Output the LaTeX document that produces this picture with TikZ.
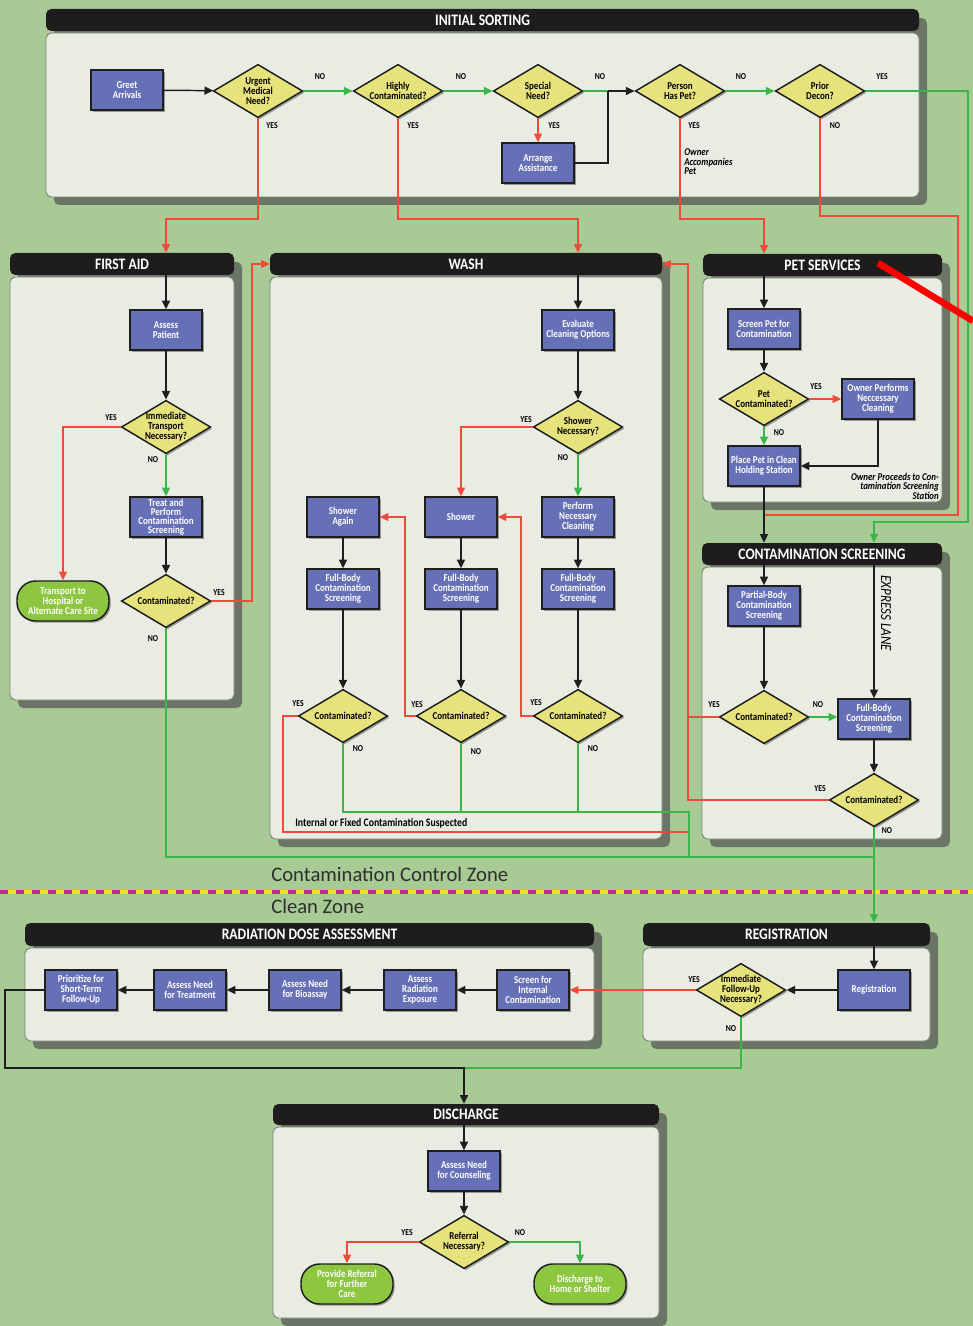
\documentclass[tikz,border=0pt]{standalone}
\usepackage{fontspec}
\setmainfont{Carlito}
\newfontfamily\hdrfamily[FakeStretch=0.85]{Carlito}
\newfontfamily\bxfamily[FakeStretch=0.85]{Carlito}
\usetikzlibrary{shapes.geometric,arrows.meta,shadows,fit}

\definecolor{bgc}{HTML}{A8CA94}
\definecolor{panelc}{HTML}{E8ECE2}
\definecolor{panelline}{HTML}{7C8579}
\definecolor{shadowc}{HTML}{6A7565}
\definecolor{hdrc}{HTML}{1F1C1D}
\definecolor{boxc}{HTML}{6670B6}
\definecolor{diac}{HTML}{E6E27C}
\definecolor{termc}{HTML}{8DC63F}
\definecolor{edgec}{HTML}{1E1E1E}
\definecolor{redc}{HTML}{EE4B3A}
\definecolor{grnc}{HTML}{3DB54A}
\definecolor{zoneY}{HTML}{F5E21A}
\definecolor{zoneM}{HTML}{C2278F}
\definecolor{zonetxt}{HTML}{2F2F2F}

\newcommand\hdfont{\hdrfamily\bfseries\fontsize{12}{14}\selectfont}
\newcommand\bxfont{\bxfamily\bfseries\fontsize{7.9}{7.5}\selectfont}
\newcommand\ynfont{\bxfamily\bfseries\fontsize{6.8}{7}\selectfont}
\newcommand\notefont{\bxfamily\bfseries\itshape\fontsize{7.8}{7.2}\selectfont}
\newcommand\zonefont{\fontsize{15.5}{17}\selectfont}

% panel: name, left x, header top, right x, header bottom, body bottom, title
\newcommand\mkpanel[7]{%
  \fill[shadowc, rounded corners=4pt] (#2+8,#3+9) rectangle (#4+8,#6+8);
  \node[body, fit={(#2,#5+2) (#4,#6)}] (b#1) {};
  \node[hdr, fit={(#2,#3) (#4,#5)}] (h#1) {};
  \node[hdrtext] (h#1-t) at (h#1.center) {#7};
}
% decision: name, position, text
\newcommand\dnode[3]{%
  \node[dia] (#1) at (#2) {};
  \node[dtext] (#1-t) at (#1.center) {#3};
}
% YES / NO tag: name, x, y, text
\newcommand\yn[4]{\node[yn] (#1) at (#2,#3) {#4};}

\begin{document}
\begin{tikzpicture}[x=0.75pt,y=-0.75pt,
  box/.style={draw=edgec, line width=1.1pt, fill=boxc, text=white,
    minimum width=54pt, minimum height=30pt, inner sep=1pt, align=center,
    font=\bxfont, drop shadow={shadow xshift=1.3pt, shadow yshift=-1.3pt, opacity=0.35, fill=black}},
  dia/.style={diamond, draw=edgec, line width=1.1pt, fill=diac,
    minimum width=67pt, minimum height=40pt, inner sep=0pt,
    drop shadow={shadow xshift=1.3pt, shadow yshift=-1.3pt, opacity=0.35, fill=black}},
  dtext/.style={font=\bxfont, text=black, align=center, inner sep=0pt},
  term/.style={draw=edgec, line width=1.1pt, fill=termc, text=white, rounded corners=14pt,
    minimum width=69pt, minimum height=30pt, inner sep=1pt, align=center, font=\bxfont,
    drop shadow={shadow xshift=1.3pt, shadow yshift=-1.3pt, opacity=0.35, fill=black}},
  hdr/.style={fill=hdrc, rounded corners=4pt, inner sep=0pt},
  hdrtext/.style={text=white, font=\hdfont, inner sep=0pt},
  body/.style={fill=panelc, draw=panelline, line width=0.7pt, rounded corners=4pt, inner sep=0pt},
  yn/.style={font=\ynfont, text=black, inner sep=0pt},
  note/.style={font=\notefont, text=black, inner sep=0pt},
  zone/.style={font=\zonefont, text=zonetxt, inner sep=0pt, anchor=west},
  tip/.style={-{Triangle[length=6.5pt,width=6pt]}},
  blkL/.style={draw=edgec, line width=1.1pt},
  blkA/.style={blkL, tip},
  redL/.style={draw=redc, line width=0.95pt},
  redA/.style={redL, tip},
  grnL/.style={draw=grnc, line width=0.95pt},
  grnA/.style={grnL, tip},
  slash/.style={draw=red, line width=5pt}
]
\useasboundingbox (0,0) rectangle (973,1326);
\fill[bgc] (0,0) rectangle (973,1326);

% zone border
\draw[zoneY, line width=2.4pt] (0,892) -- (973,892);
\draw[zoneM, line width=2.4pt, dash pattern=on 6pt off 6pt] (0,892) -- (973,892);
\node[zone] (zcc) at (271,874) {Contamination Control Zone};
\node[zone] (zcl) at (271,906) {Clean Zone};

% panels
\mkpanel{IS}{46}{9}{919}{31}{197}{INITIAL SORTING}
\mkpanel{FA}{10}{253}{234}{275}{700}{FIRST AID}
\mkpanel{W}{270}{253}{662}{275}{839}{WASH}
\mkpanel{PS}{703}{254}{942}{276}{502}{PET SERVICES}
\mkpanel{CS}{702}{543}{942}{565}{839}{CONTAMINATION SCREENING}
\mkpanel{RD}{25}{923}{594}{946}{1041}{RADIATION DOSE ASSESSMENT}
\mkpanel{RG}{643}{923}{930}{946}{1041}{REGISTRATION}
\mkpanel{DS}{273}{1104}{659}{1125}{1318}{DISCHARGE}

% ---------- initial sorting ----------
\node[box] (greet) at (127,90) {Greet\\Arrivals};
\dnode{urg}{258,91}{Urgent\\Medical\\Need?}
\dnode{hcon}{398,91}{Highly\\Contaminated?}
\dnode{spn}{538,91}{Special\\Need?}
\node[box] (arr) at (538,163) {Arrange\\Assistance};
\dnode{pet}{680,91}{Person\\Has Pet?}
\dnode{pdc}{820,91}{Prior\\Decon?}
\node[note, anchor=west, align=left] (acc) at (684,162) {Owner\\Accompanies\\Pet};

% ---------- first aid ----------
\node[box] (asp) at (166,330) {Assess\\Patient};
\dnode{itn}{166,427}{Immediate\\Transport\\Necessary?}
\node[box, font=\bxfamily\bfseries\fontsize{7.9}{6.7}\selectfont] (trt) at (166,517) {Treat and\\Perform\\Contamination\\Screening};
\node[term] (hosp) at (63,601) {Transport to\\Hospital or\\Alternate Care Site};
\dnode{fac}{166,601}{Contaminated?}

% ---------- wash ----------
\node[box] (eco) at (578,330) {Evaluate\\Cleaning Options};
\dnode{shn}{578,427}{Shower\\Necessary?}
\node[box] (sha) at (343,517) {Shower\\Again};
\node[box] (shw) at (461,517) {Shower};
\node[box] (pnc) at (578,517) {Perform\\Necessary\\Cleaning};
\node[box] (fb1) at (343,589) {Full-Body\\Contamination\\Screening};
\node[box] (fb2) at (461,589) {Full-Body\\Contamination\\Screening};
\node[box] (fb3) at (578,589) {Full-Body\\Contamination\\Screening};
\dnode{wc1}{343,716}{Contaminated?}
\dnode{wc2}{461,716}{Contaminated?}
\dnode{wc3}{578,716}{Contaminated?}
\node[yn, anchor=west, font=\bxfamily\bfseries\fontsize{8.6}{9}\selectfont] (ifc) at (295,823) {Internal or Fixed Contamination Suspected};

% ---------- pet services ----------
\node[box] (spc) at (764,329) {Screen Pet for\\Contamination};
\dnode{ptc}{764,399}{Pet\\Contaminated?}
\node[box] (opc) at (878,399) {Owner Performs\\Neccessary\\Cleaning};
\node[box] (pph) at (764,466) {Place Pet in Clean\\Holding Station};
\node[note, anchor=east, align=right] (opr) at (939,486) {Owner Proceeds to Con-\\tamination Screening\\Station};

% ---------- contamination screening ----------
\node[box] (pbs) at (764,606) {Partial-Body\\Contamination\\Screening};
\dnode{csc1}{764,717}{Contaminated?}
\node[box] (fb4) at (874,719) {Full-Body\\Contamination\\Screening};
\dnode{csc2}{874,800}{Contaminated?}
\node[note, font=\hdrfamily\itshape\fontsize{11.5}{12}\selectfont, rotate=-90] (exl) at (886,613) {EXPRESS LANE};

% ---------- radiation dose assessment ----------
\node[box] (pri) at (81,990) {Prioritize for\\Short-Term\\Follow-Up};
\node[box] (ant) at (190,990) {Assess Need\\for Treatment};
\node[box] (anb) at (305,990) {Assess Need\\for Bioassay};
\node[box] (are) at (420,990) {Assess\\Radiation\\Exposure};
\node[box] (sic) at (533,990) {Screen for\\Internal\\Contamination};

% ---------- registration ----------
\node[box] (rgs) at (874,990) {Registration};
\dnode{ifu}{741,990}{Immediate\\Follow-Up\\Necessary?}

% ---------- discharge ----------
\node[box] (anc) at (464,1171) {Assess Need\\for Counseling};
\dnode{rfn}{464,1242}{Referral\\Necessary?}
\node[term] (prf) at (347,1284) {Provide Referral\\for Further\\Care};
\node[term] (dhs) at (580,1284) {Discharge to\\Home or Shelter};

% ---------- routing points ----------
\coordinate (jsp) at (608,91);
\coordinate (kFA) at (166,219);
\coordinate (kW) at (578,219);
\coordinate (kP) at (764,219);
\coordinate (kD1) at (958,216);
\coordinate (kD2) at (764,515);
\coordinate (kE1) at (968,522);
\coordinate (kFW) at (252,264);
\coordinate (kR) at (688,264);
\coordinate (kG) at (874,857);
\coordinate (kWG) at (689,812);
\coordinate (kWR) at (283,832);
\coordinate (kS1) at (405,517);
\coordinate (kS2) at (521,517);
\coordinate (kB) at (464,1068);
\coordinate (kL) at (5,1068);

% ---------- connectors: initial sorting ----------
\draw[blkA] (greet) -- (urg);
\draw[grnA] (urg) -- (hcon);
\draw[grnA] (hcon) -- (spn);
\draw[grnL] (spn) -- (jsp);
\draw[blkA] (jsp) -- (pet);
\draw[blkL] (arr.east) -| (jsp);
\draw[redA] (spn.south) -- (arr.north);
\draw[grnA] (pet) -- (pdc);
\draw[redA] (urg.south) |- (kFA) -- (kFA |- hFA.north);
\draw[redA] (hcon.south) |- (kW) -- (kW |- hW.north);
\draw[redA] (pet.south) |- (kP) -- (kP |- hPS.north);
\draw[redL] (pdc.south) |- (kD1) |- (kD2);
\draw[grnA] (pdc.east) -| (kE1) -| (fb4 |- hCS.north);

% first aid
\draw[blkA] (hFA.south -| asp) -- (asp);
\draw[blkA] (asp) -- (itn);
\draw[grnA] (itn) -- (trt);
\draw[blkA] (trt) -- (fac);
\draw[redA] (itn.west) -| (hosp.north);
\draw[redA] (fac.east) -| (kFW) -- (hW.west);
\draw[grnL] (fac.south) |- (kG);

% wash
\draw[blkA] (hW.south -| eco) -- (eco);
\draw[blkA] (eco) -- (shn);
\draw[redA] (shn.west) -| (shw.north);
\draw[grnA] (shn) -- (pnc);
\draw[blkA] (sha) -- (fb1);
\draw[blkA] (shw) -- (fb2);
\draw[blkA] (pnc) -- (fb3);
\draw[blkA] (fb1) -- (wc1);
\draw[blkA] (fb2) -- (wc2);
\draw[blkA] (fb3) -- (wc3);
\draw[redA] (wc2.west) -| (kS1) -- (sha.east);
\draw[redA] (wc3.west) -| (kS2) -- (shw.east);
\draw[redL] (wc1.west) -| (kWR) -- (kWR -| kWG);
\draw[grnL] (wc1.south) |- (kWG) -- (kWG |- kG);
\draw[grnL] (wc2.south) -- (wc2.south |- kWG);
\draw[grnL] (wc3.south) -- (wc3.south |- kWG);

% pet services
\draw[blkA] (hPS.south -| spc) -- (spc);
\draw[blkA] (spc) -- (ptc);
\draw[redA] (ptc) -- (opc);
\draw[grnA] (ptc) -- (pph);
\draw[blkA] (opc.south) |- (pph.east);
\draw[blkA] (pph) -- (pph |- hCS.north);

% contamination screening
\draw[blkA] (hCS.south -| pbs) -- (pbs);
\draw[blkA] (pbs) -- (csc1);
\draw[grnA] (csc1.east) -- (csc1.east -| fb4.west);
\draw[blkA] (hCS.south -| fb4) -- (fb4);
\draw[blkA] (fb4) -- (csc2);
\draw[redL] (csc1.west) -- (csc1.west -| kR);
\draw[redA] (csc2.west) -| (kR) -- (hW.east);
\draw[grnA] (csc2.south) -- (rgs |- hRG.north);

% registration and dose assessment
\draw[blkA] (hRG.south -| rgs) -- (rgs);
\draw[blkA] (rgs) -- (ifu);
\draw[redA] (ifu) -- (sic);
\draw[grnL] (ifu.south) |- (kB);
\draw[blkA] (sic) -- (are);
\draw[blkA] (are) -- (anb);
\draw[blkA] (anb) -- (ant);
\draw[blkA] (ant) -- (pri);
\draw[blkA] (pri.west) -| (kL) -| (anc |- hDS.north);

% discharge
\draw[blkA] (hDS.south -| anc) -- (anc);
\draw[blkA] (anc) -- (rfn);
\draw[redA] (rfn.west) -| (prf.north);
\draw[grnA] (rfn.east) -| (dhs.north);

% ---------- YES / NO tags ----------
\yn{t1}{320}{77}{NO}
\yn{t2}{461}{77}{NO}
\yn{t3}{600}{77}{NO}
\yn{t4}{741}{77}{NO}
\yn{t5}{882}{77}{YES}
\yn{t6}{272}{126}{YES}
\yn{t7}{413}{126}{YES}
\yn{t8}{554}{126}{YES}
\yn{t9}{694}{126}{YES}
\yn{t10}{835}{126}{NO}
\yn{t11}{111}{418}{YES}
\yn{t12}{153}{460}{NO}
\yn{t13}{219}{593}{YES}
\yn{t14}{153}{639}{NO}
\yn{t15}{526}{420}{YES}
\yn{t16}{563}{458}{NO}
\yn{t17}{298}{704}{YES}
\yn{t18}{417}{705}{YES}
\yn{t19}{536}{703}{YES}
\yn{t20}{358}{749}{NO}
\yn{t21}{476}{752}{NO}
\yn{t22}{593}{749}{NO}
\yn{t23}{816}{387}{YES}
\yn{t24}{779}{433}{NO}
\yn{t25}{714}{705}{YES}
\yn{t26}{818}{705}{NO}
\yn{t27}{820}{789}{YES}
\yn{t28}{887}{831}{NO}
\yn{t29}{694}{980}{YES}
\yn{t30}{731}{1029}{NO}
\yn{t31}{407}{1233}{YES}
\yn{t32}{520}{1233}{NO}

% red strike mark over the pet services title
\coordinate (s1) at (878,263);
\coordinate (s2) at (973,321);
\draw[slash] (s1) -- (s2);
\end{tikzpicture}
\end{document}
